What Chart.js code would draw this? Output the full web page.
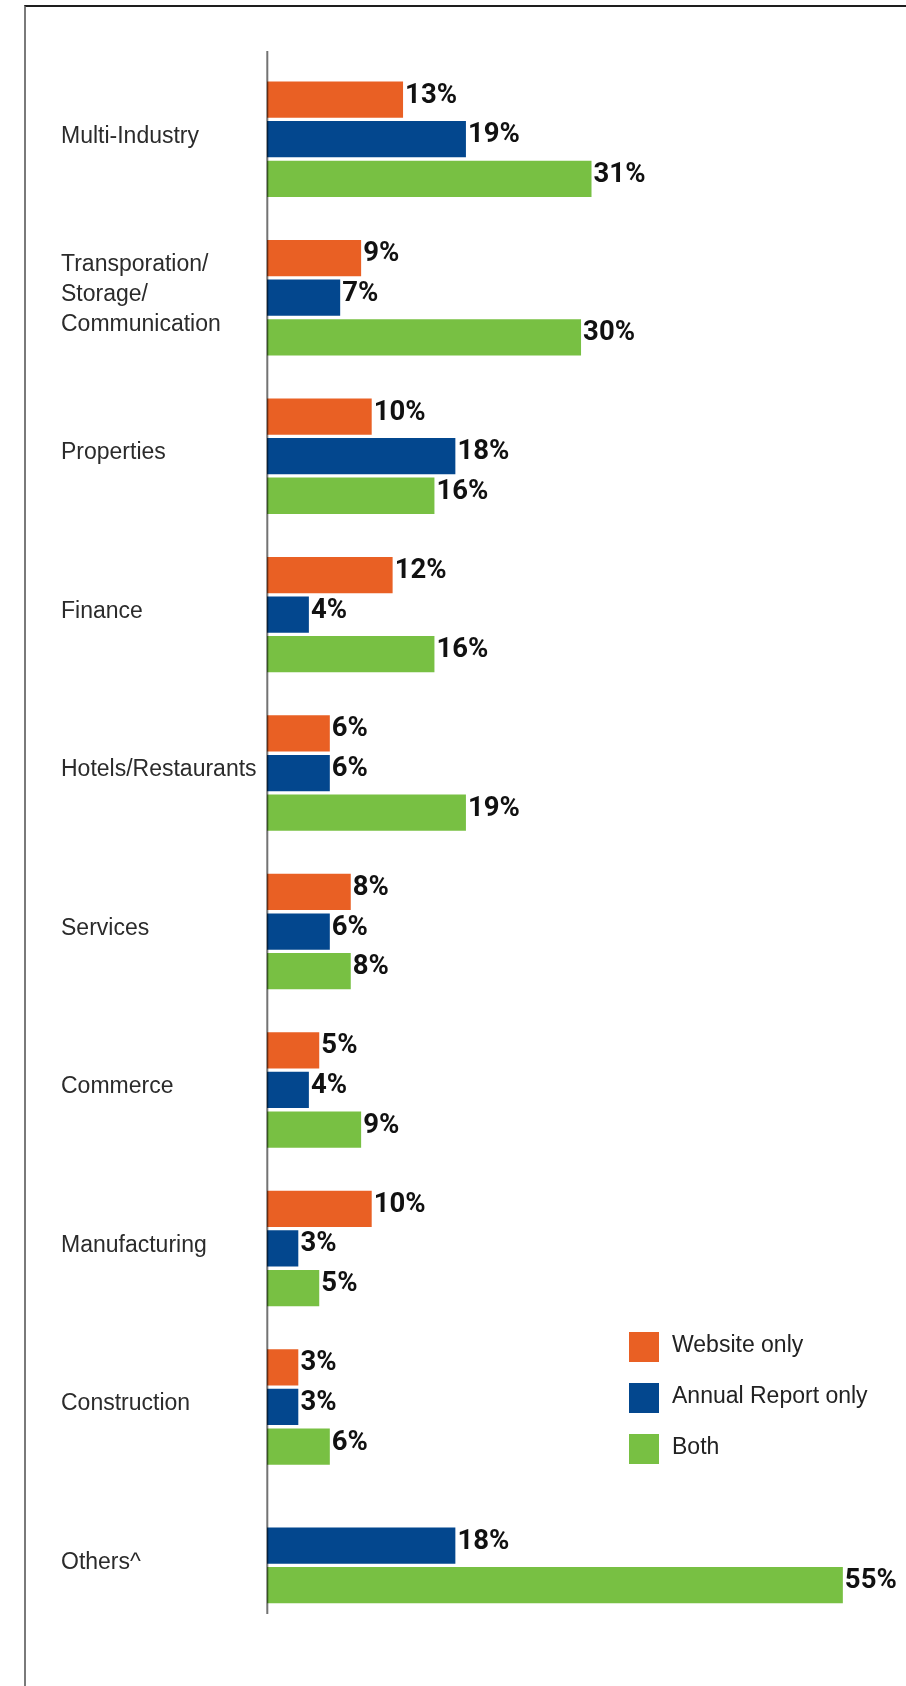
<!DOCTYPE html>
<html>
<head>
<meta charset="utf-8">
<script src="https://cdn.jsdelivr.net/npm/chart.js@4/dist/chart.umd.min.js"></script>
<style>
  html, body { margin: 0; padding: 0; background: #fff; overflow: hidden; }
  #wrap { position: relative; width: 906px; height: 1686px; }
  #frame {
    position: absolute; left: 24px; top: 5px; right: 0; bottom: 0;
    border-top: 2px solid #1e1e1e; border-left: 2px solid #7a7a7a;
  }
  #chart { position: absolute; left: 0; top: 0; }
</style>
</head>
<body>
<div id="wrap">
  <div id="frame"></div>
  <canvas id="chart" width="906" height="1686"></canvas>
</div>
<script>
// Share of companies per industry, by where the disclosure was published (%)
const industries = [
  'Multi-Industry',
  ['Transporation/', 'Storage/', 'Communication'],
  'Properties',
  'Finance',
  'Hotels/Restaurants',
  'Services',
  'Commerce',
  'Manufacturing',
  'Construction',
  'Others^'
];
const websiteOnly      = [13, 9, 10, 12, 6, 8, 5, 10, 3, null];
const annualReportOnly = [19, 7, 18, 4, 6, 6, 4, 3, 3, 18];
const bothChannels     = [31, 30, 16, 16, 19, 8, 9, 5, 6, 55];

const seriesNames  = ['Website only', 'Annual Report only', 'Both'];
const seriesColors = ['#E96024', '#03478E', '#78C043'];

const labelFont = "'Liberation Sans', Arial, sans-serif";

// Vertical baseline next to the bars
const axisLinePlugin = {
  id: 'axisLine',
  afterDatasetsDraw(chart, args, opts) {
    const { ctx } = chart;
    const x = chart.scales.x.getPixelForValue(0) + 0.3;
    ctx.save();
    ctx.strokeStyle = opts.color;
    ctx.lineWidth = opts.width;
    ctx.beginPath();
    ctx.moveTo(x, opts.top);
    ctx.lineTo(x, opts.bottom);
    ctx.stroke();
    ctx.restore();
  }
};

// Percentage printed at the end of every bar
const valueLabelPlugin = {
  id: 'valueLabels',
  afterDatasetsDraw(chart, args, opts) {
    const { ctx } = chart;
    ctx.save();
    ctx.font = opts.font;
    ctx.fillStyle = opts.color;
    ctx.textAlign = 'left';
    ctx.textBaseline = 'alphabetic';
    chart.data.datasets.forEach((ds, di) => {
      const meta = chart.getDatasetMeta(di);
      meta.data.forEach((bar, i) => {
        const v = ds.data[i];
        if (v === null || v === undefined) return;
        ctx.fillText(v + '%', bar.x + opts.dx, bar.y + opts.dy);
      });
    });
    ctx.restore();
  }
};

// Legend box drawn inside the plot, lower right
const boxLegendPlugin = {
  id: 'boxLegend',
  afterDraw(chart, args, opts) {
    const { ctx } = chart;
    ctx.save();
    ctx.font = opts.font;
    ctx.textAlign = 'left';
    ctx.textBaseline = 'middle';
    chart.data.datasets.forEach((ds, i) => {
      const y = opts.y + i * opts.step;
      ctx.fillStyle = ds.backgroundColor;
      ctx.fillRect(opts.x, y, opts.box, opts.box);
      ctx.fillStyle = opts.color;
      ctx.fillText(ds.label, opts.x + opts.box + opts.gap, y + opts.box / 2 - 1);
    });
    ctx.restore();
  }
};

const seriesData = [websiteOnly, annualReportOnly, bothChannels];

new Chart(document.getElementById('chart'), {
  type: 'bar',
  data: {
    labels: industries,
    datasets: seriesData.map((values, i) => ({
      label: seriesNames[i],
      data: values,
      backgroundColor: seriesColors[i],
      borderColor: '#ffffff',
      borderWidth: { top: 2, bottom: 2, left: 0, right: 0 },
      borderSkipped: 'start',
      barThickness: 39.6,
      skipNull: true
    }))
  },
  options: {
    indexAxis: 'y',
    responsive: false,
    devicePixelRatio: 1,
    animation: false,
    layout: { padding: { left: 61, right: 10.8, top: 60, bottom: 41.4 } },
    scales: {
      x: {
        type: 'linear',
        min: 0,
        max: 60,
        display: false
      },
      y: {
        type: 'category',
        offset: true,
        grid: { display: false },
        border: { display: false },
        ticks: {
          crossAlign: 'far',
          labelOffset: -3,
          color: '#2b2b2b',
          font: { family: labelFont, size: 23, lineHeight: 1.29 }
        },
        afterFit(scale) { scale.width = 206; }
      }
    },
    plugins: {
      legend: { display: false },
      tooltip: { enabled: false },
      axisLine: { color: 'rgba(0,0,0,0.55)', width: 2, top: 51, bottom: 1614 },
      valueLabels: { font: "bold 27.5px Roboto, 'Liberation Sans', Arial, sans-serif", color: '#111', dx: 2, dy: 3 },
      boxLegend: { x: 629, y: 1332, step: 51, box: 30, gap: 13, color: '#222', font: "23px 'Liberation Sans', Arial, sans-serif" }
    }
  },
  plugins: [axisLinePlugin, valueLabelPlugin, boxLegendPlugin]
});
</script>
</body>
</html>
